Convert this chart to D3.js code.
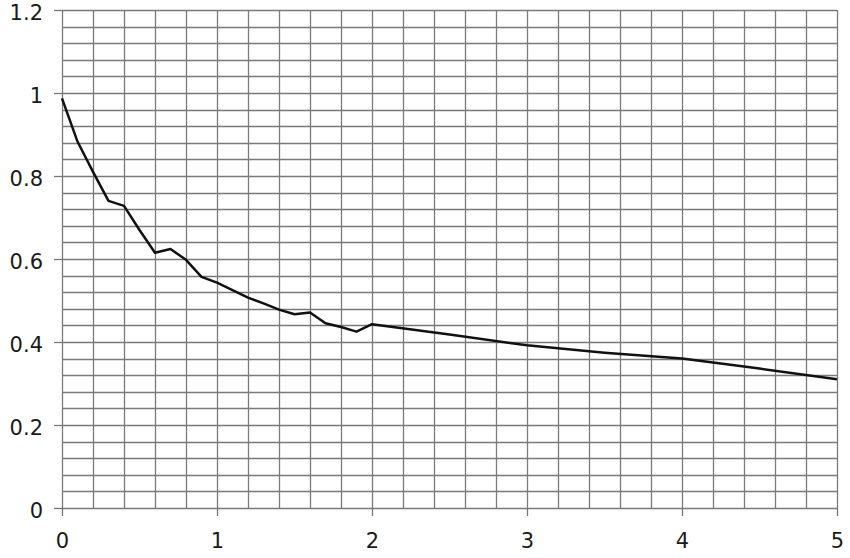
<!doctype html>
<html lang="en">
  <head>
    <meta charset="utf-8">
    <title>Decay curve</title>
    <style>
      body { margin: 0; background: #fff; }
      .tick text { font-family: "DejaVu Sans", Verdana, sans-serif; font-size: 21px; fill: #1a1a1a; }
    </style>
  </head>
  <body>
    <script src="https://d3js.org/d3.v7.min.js"></script>
    <script>
      // values
      var xValues = [0, 0.1, 0.2, 0.3, 0.4, 0.5, 0.6, 0.7, 0.8, 0.9, 1.0,
                     1.1, 1.2, 1.3, 1.4, 1.5, 1.6, 1.7, 1.8, 1.9, 2.0,
                     2.5, 3.0, 3.5, 4.0, 4.5, 5.0];
      var yValues = [0.987, 0.883, 0.81, 0.74, 0.728, 0.67, 0.615, 0.624, 0.598, 0.557, 0.543,
                     0.525, 0.507, 0.493, 0.478, 0.467, 0.471, 0.445, 0.436, 0.425, 0.443,
                     0.418, 0.392, 0.374, 0.360, 0.336, 0.310];
      var xTicks = [0, 1, 2, 3, 4, 5];
      var yTicks = [0, 0.2, 0.4, 0.6, 0.8, 1, 1.2];

      var margin = { top: 10, right: 13, bottom: 50, left: 62 };
      var width = 850 - margin.left - margin.right;
      var height = 558 - margin.top - margin.bottom;

      var x = d3.scaleLinear().domain([0, 5]).range([0, width]);
      var y = d3.scaleLinear().domain([0, 1.2]).range([height, 0]);

      var svg = d3.select('body').append('svg')
          .attr('width', 850)
          .attr('height', 558)
        .append('g')
          .attr('transform', 'translate(' + margin.left + ',' + margin.top + ')');

      // grid: 0.2 steps across, 0.04 steps up
      var grid = svg.append('g').attr('stroke', '#7a7a7a').attr('stroke-width', 1.3);
      grid.selectAll('.vg')
        .data(d3.range(0, 26).map(function(i) { return i * 0.2; }))
        .enter().append('line')
          .attr('x1', function(d) { return Math.round(x(d)) + 0.5; })
          .attr('x2', function(d) { return Math.round(x(d)) + 0.5; })
          .attr('y1', 0)
          .attr('y2', height);
      grid.selectAll('.hg')
        .data(d3.range(0, 31).map(function(i) { return i * 0.04; }))
        .enter().append('line')
          .attr('x1', 0)
          .attr('x2', width)
          .attr('y1', function(d) { return Math.round(y(d)) + 0.5; })
          .attr('y2', function(d) { return Math.round(y(d)) + 0.5; });

      var xAxis = svg.append('g')
          .attr('transform', 'translate(0,' + height + ')')
          .call(d3.axisBottom(x).tickValues(xTicks).tickFormat(d3.format('d')).tickSize(8).tickPadding(17));
      var yAxis = svg.append('g')
          .call(d3.axisLeft(y).tickValues(yTicks).tickFormat(function(d) { return d3.format('')(+d.toFixed(1)); }).tickSize(8).tickPadding(11));

      // labels sit a little below their ticks in the original
      yAxis.selectAll('.tick text').attr('dy', '0.45em');

      [xAxis, yAxis].forEach(function(a) {
        a.select('.domain').remove();
        a.selectAll('.tick line').attr('stroke', '#777').attr('stroke-width', 1.3);
      });

      var line = d3.line()
          .x(function(d, i) { return x(xValues[i]); })
          .y(function(d) { return y(d); });

      svg.append('path')
          .datum(yValues)
          .attr('fill', 'none')
          .attr('stroke', '#111')
          .attr('stroke-width', 2.5)
          .attr('stroke-linejoin', 'round')
          .attr('d', line);
    </script>
  </body>
</html>
